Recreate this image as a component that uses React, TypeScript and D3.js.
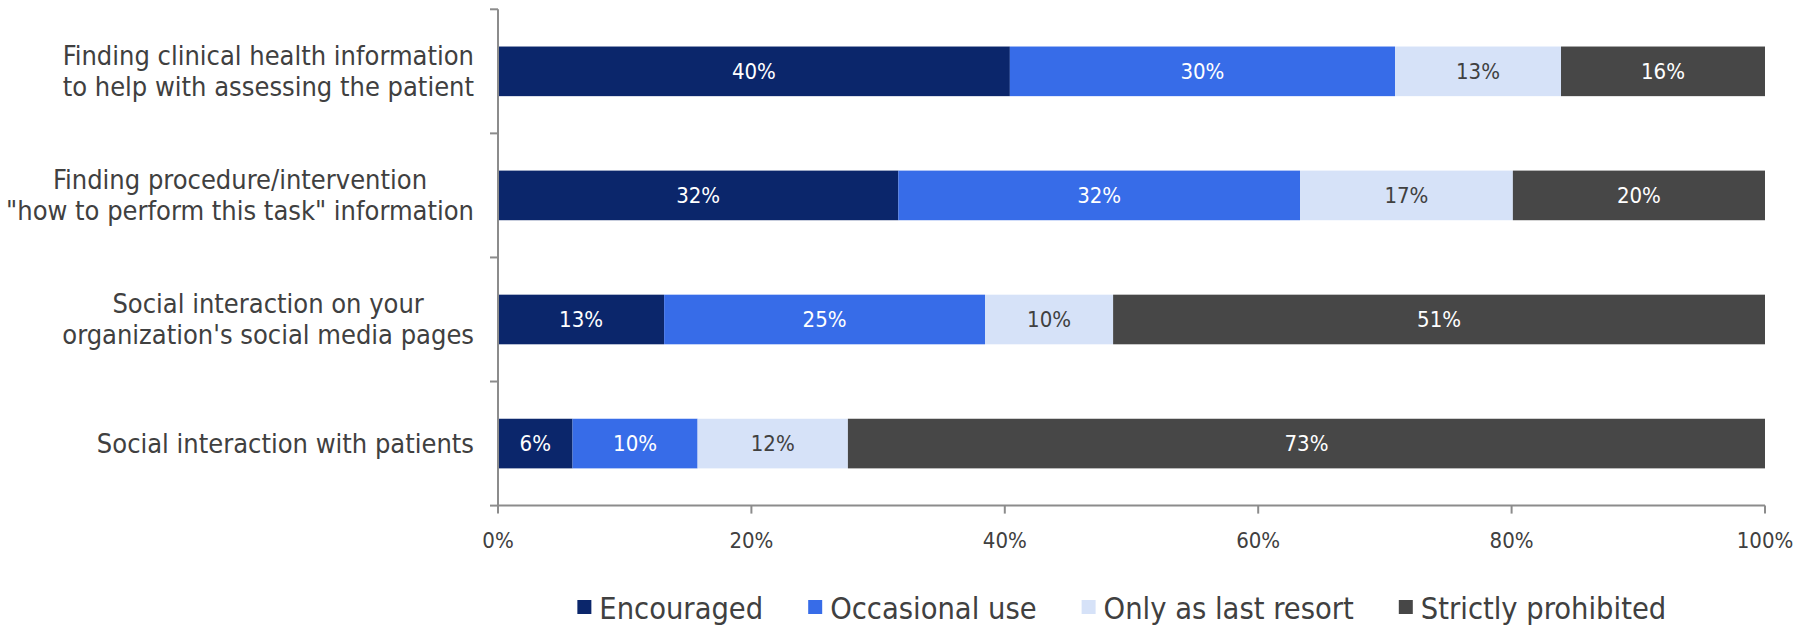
import React, { useEffect, useRef } from "react";
import * as d3 from "d3";

const categories = [
  "Finding clinical health information\nto help with assessing the patient",
  "Finding procedure/intervention\n\"how to perform this task\" information",
  "Social interaction on your\norganization's social media pages",
  "Social interaction with patients",
];
const seriesNames = ["Encouraged", "Occasional use", "Only as last resort", "Strictly prohibited"];
const encouraged = [40.4, 31.6, 13.1, 5.9];
const occasional = [30.4, 31.7, 25.3, 9.9];
const lastResort = [13.1, 16.8, 10.1, 11.9];
const prohibited = [16.1, 19.9, 51.4, 72.6];
const xTicks = [0, 0.2, 0.4, 0.6, 0.8, 1];
const colors = ["#0B266B", "#376CE8", "#D6E2F8", "#474747"];
const labelColors = ["#FFFFFF", "#FFFFFF", "#404040", "#FFFFFF"];

const W = 1814;
const H = 626;
const FONT = "'Liberation Sans Narrow', 'DejaVu Sans Condensed', 'Liberation Sans', sans-serif";

export default function App() {
  const ref = useRef<SVGSVGElement | null>(null);
  useEffect(() => {
    const svg = d3.select(ref.current);
    svg.selectAll("*").remove();
    const x0 = 498, x1 = 1765, yTop = 9.3, yBot = 505.6;
    const x = d3.scaleLinear().domain([0, 1]).range([x0, x1]);
    const y = d3.scaleBand<string>().domain(categories).range([yTop, yBot]).paddingInner(0.6).paddingOuter(0.3);
    const series = [encouraged, occasional, lastResort, prohibited];
    const axisColor = "#8C8C8C";
    const textColor = "#404040";

    categories.forEach((c, i) => {
      const vals = series.map((s) => s[i]);
      const total = d3.sum(vals);
      let acc = 0;
      vals.forEach((v, k) => {
        const a = acc / total;
        acc += v;
        const b = acc / total;
        svg.append("rect")
          .attr("x", x(a)).attr("y", y(c)!)
          .attr("width", x(b) - x(a)).attr("height", y.bandwidth())
          .attr("fill", colors[k]);
        svg.append("text")
          .attr("x", (x(a) + x(b)) / 2).attr("y", y(c)! + y.bandwidth() / 2)
          .attr("text-anchor", "middle").attr("dominant-baseline", "central")
          .attr("font-family", FONT).attr("font-size", 22)
          .attr("fill", labelColors[k])
          .text(d3.format(".0f")(v) + "%");
      });
    });

    const g = svg.append("g");
    g.append("line").attr("x1", x0).attr("x2", x0).attr("y1", yTop).attr("y2", yBot)
      .attr("stroke", axisColor).attr("stroke-width", 2);
    const bounds = [yTop, ...categories.map((c) => y(c)! + y.bandwidth() + (y.step() - y.bandwidth()) / 2)];
    bounds.forEach((b) => {
      g.append("line").attr("x1", x0 - 8).attr("x2", x0).attr("y1", b).attr("y2", b)
        .attr("stroke", axisColor).attr("stroke-width", 2);
    });
    g.append("line").attr("x1", x0).attr("x2", x1).attr("y1", yBot).attr("y2", yBot)
      .attr("stroke", axisColor).attr("stroke-width", 2);
    xTicks.forEach((t) => {
      g.append("line").attr("x1", x(t)).attr("x2", x(t)).attr("y1", yBot).attr("y2", yBot + 8)
        .attr("stroke", axisColor).attr("stroke-width", 2);
      g.append("text").attr("x", x(t)).attr("y", 540)
        .attr("text-anchor", "middle").attr("dominant-baseline", "central")
        .attr("font-family", FONT).attr("font-size", 22).attr("fill", textColor)
        .text(d3.format(".0%")(t));
    });

    categories.forEach((c) => {
      const lines = c.split("\n");
      const cy = y(c)! + y.bandwidth() / 2;
      const lh = 31;
      const tg = svg.append("g");
      const texts = lines.map((ln, j) =>
        tg.append("text")
          .attr("y", cy + (j - (lines.length - 1) / 2) * lh)
          .attr("text-anchor", "middle").attr("dominant-baseline", "central")
          .attr("font-family", FONT).attr("font-size", 27).attr("fill", textColor)
          .text(ln)
      );
      const widths = texts.map((t) => (t.node() as SVGTextElement).getComputedTextLength());
      const maxW = d3.max(widths) || 0;
      const right = 474;
      texts.forEach((t) => t.attr("x", right - maxW / 2));
    });

    const lg = svg.append("g");
    const items = seriesNames.map((n, k) => {
      const it = lg.append("g");
      it.append("rect").attr("x", 0).attr("y", -7).attr("width", 14).attr("height", 14).attr("fill", colors[k]);
      const t = it.append("text").attr("x", 22).attr("y", 1).attr("dominant-baseline", "central")
        .attr("font-family", FONT).attr("font-size", 30.5).attr("fill", textColor).text(n);
      const w = 22 + (t.node() as SVGTextElement).getComputedTextLength();
      return { it, w };
    });
    const gap = 45;
    const totalW = d3.sum(items, (d) => d.w) + gap * (items.length - 1);
    let lx = (571.6 + 1672) / 2 - totalW / 2;
    items.forEach((d) => {
      d.it.attr("transform", `translate(${lx},607)`);
      lx += d.w + gap;
    });
  }, []);
  return (
    <svg ref={ref} width={W} height={H} style={{ display: "block", position: "absolute", left: 0, top: 0, background: "#fff" }} />
  );
}
